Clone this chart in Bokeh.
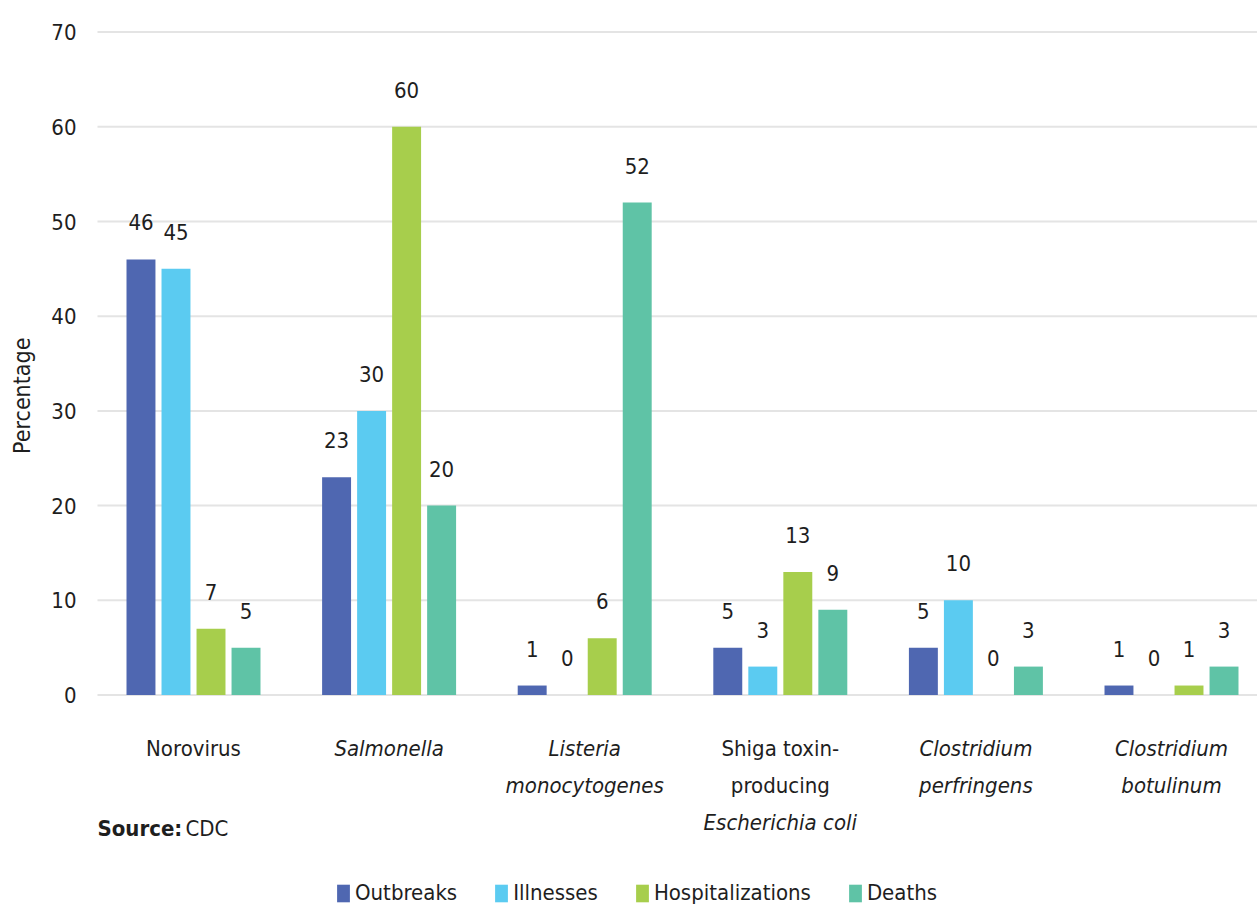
import math
from bokeh.plotting import figure
from bokeh.models import ColumnDataSource, Range1d
from bokeh.core.properties import value
from bokeh.embed import file_html
from bokeh.resources import INLINE

# ---------------- data ----------------
categories = ["Norovirus", "Salmonella", "Listeria monocytogenes",
              "Shiga toxin-producing Escherichia coli",
              "Clostridium perfringens", "Clostridium botulinum"]
category_lines = [["Norovirus"], ["Salmonella"], ["Listeria", "monocytogenes"],
                  ["Shiga toxin-", "producing", "Escherichia coli"],
                  ["Clostridium", "perfringens"], ["Clostridium", "botulinum"]]
category_italic = [[False], [True], [True, True], [False, False, True],
                   [True, True], [True, True]]
series = ["Outbreaks", "Illnesses", "Hospitalizations", "Deaths"]
outbreaks = [46, 23, 1, 5, 5, 1]
illnesses = [45, 30, 0, 3, 10, 0]
hospitalizations = [7, 60, 6, 13, 0, 1]
deaths = [5, 20, 52, 9, 3, 3]
y_ticks = [0, 10, 20, 30, 40, 50, 60, 70]
y_label = "Percentage"
source_bold = "Source:"
source_text = "CDC"

# ---------------- style ----------------
colors = ["#4F67B1", "#5BCBF1", "#A7CE4C", "#5FC3A6"]
FONT = "DejaVu Sans Condensed, Liberation Sans"
TXT = "#1e1e1e"
FS = "22px"

W, H = 1257, 909
plot_left_px = 95.2
px_per_unit = 9.47
zero_px = 694.5
ymin = -(H - zero_px) / px_per_unit
ymax = ymin + H / px_per_unit
group_px = 195.6


def xd(px):
    return (px - plot_left_px) / group_px


p = figure(width=W, height=H, output_backend="svg", toolbar_location=None,
           x_range=Range1d(xd(0), xd(W)), y_range=Range1d(ymin, ymax),
           x_axis_location=None, y_axis_location=None,
           min_border_left=0, min_border_right=0,
           min_border_top=0, min_border_bottom=0)
p.outline_line_color = None
p.background_fill_color = "white"
p.border_fill_color = "white"
p.xgrid.visible = False
p.ygrid.visible = False

# gridlines + y tick labels
p.segment(x0=[xd(97)] * len(y_ticks), x1=[xd(W)] * len(y_ticks),
          y0=y_ticks, y1=y_ticks, line_color="#e4e4e4", line_width=2)
p.text(x=[xd(76)] * len(y_ticks), y=y_ticks, text=[str(t) for t in y_ticks],
       text_align="right", text_baseline="middle", text_font=value(FONT),
       text_font_size=FS, text_color=TXT)

# y axis title
p.text(x=[xd(21)], y=[31.6], text=[y_label], angle=math.pi / 2,
       text_align="center", text_baseline="middle", text_font=value(FONT),
       text_font_size="23px", text_color=TXT)

pitch = 0.179
bw = 0.148
all_series = [outbreaks, illnesses, hospitalizations, deaths]
for j, (name, vals) in enumerate(zip(series, all_series)):
    xs = [i + 0.5 + (j - 1.5) * pitch for i in range(len(categories))]
    src = ColumnDataSource(dict(x=xs, top=vals,
                                ly=[v + 3.9 for v in vals],
                                lab=[str(v) for v in vals]))
    p.vbar(x="x", top="top", bottom=0, width=bw, source=src,
           fill_color=colors[j], line_color=None, legend_label=name)
    p.text(x="x", y="ly", text="lab", source=src, text_align="center",
           text_baseline="middle", text_font=value(FONT),
           text_font_size=FS, text_color=TXT)

# category labels
line0 = -5.65
line_step = 3.91
cx, cy, ct, cs = [], [], [], []
for i, (lines, itals) in enumerate(zip(category_lines, category_italic)):
    for k, (t, it) in enumerate(zip(lines, itals)):
        cx.append(i + 0.5)
        cy.append(line0 - k * line_step)
        ct.append(t)
        cs.append("italic" if it else "normal")
csrc = ColumnDataSource(dict(x=cx, y=cy, t=ct, s=cs))
p.text(x="x", y="y", text="t", source=csrc, text_align="center",
       text_baseline="middle", text_font=value(FONT), text_font_size=FS,
       text_font_style="s", text_color=TXT)

# source note
sy = -14.1
p.text(x=[xd(97)], y=[sy], text=[source_bold], text_align="left",
       text_baseline="middle", text_font=value(FONT), text_font_size=FS,
       text_font_style="bold", text_color=TXT)
p.text(x=[xd(97)], y=[sy], text=[source_text], text_align="left",
       text_baseline="middle", text_font=value(FONT), text_font_size=FS,
       text_color=TXT, x_offset=88)

# legend
lg = p.legend[0]
lg.orientation = "horizontal"
lg.location = (335, 4)
lg.glyph_width = 16
lg.glyph_height = 22
lg.label_standoff = 4
lg.spacing = 36
lg.padding = 0
lg.margin = 0
lg.border_line_color = None
lg.background_fill_alpha = 0
lg.label_text_font = FONT
lg.label_text_font_size = FS
lg.label_text_color = TXT

open("out.html", "w").write(file_html(p, INLINE))
